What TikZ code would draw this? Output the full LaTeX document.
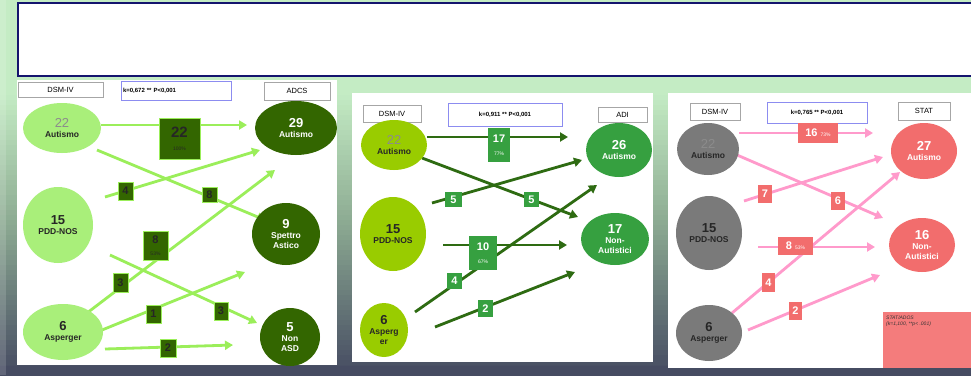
\documentclass[tikz,border=0pt]{standalone}
\usepackage{fontspec}
\setmainfont{Liberation Sans}
\usepackage{tikz}
\usetikzlibrary{arrows.meta, positioning, shapes.geometric}
\usepackage{xcolor}
\definecolor{bgtop}{HTML}{C4ECC4}
\definecolor{bgmid}{HTML}{8CAA92}
\definecolor{bgbot}{HTML}{464C62}
\definecolor{navy}{HTML}{14146E}
\definecolor{kblue}{HTML}{8C8CF0}
\definecolor{lime}{HTML}{A9EF7A}
\definecolor{limearrow}{HTML}{9BEE5A}
\definecolor{forest}{HTML}{336600}
\definecolor{olive}{HTML}{99CC00}
\definecolor{leaf}{HTML}{36A040}
\definecolor{pine}{HTML}{2E6B12}
\definecolor{slate}{HTML}{7A7A7A}
\definecolor{salmon}{HTML}{F26D6D}
\definecolor{salmonbox}{HTML}{F47C7C}
\definecolor{pinkarrow}{HTML}{FF9ACB}

\newcommand{\cnt}[1]{{\fontsize{13}{13}\selectfont #1}}
\newcommand{\faint}[1]{{\fontsize{13}{13}\selectfont\mdseries\color{black!45}#1}}
\newcommand{\pct}[1]{{\fontsize{5}{5}\selectfont\mdseries #1}}

\tikzset{
  blob/.style={ellipse, inner sep=0pt, align=center, font=\bfseries\fontsize{8.5}{10}\selectfont},
  hdr/.style={draw=gray!70, fill=white, line width=0.8pt, inner sep=0pt, font=\fontsize{7.5}{8}\selectfont},
  kbox/.style={draw=kblue, fill=white, line width=0.8pt, inner sep=2pt, font=\bfseries\fontsize{6}{6}\selectfont},
  flow/.style={line width=2.8pt, -{Triangle[length=8pt, width=9pt]}},
  tag/.style={inner sep=0pt, align=center, font=\bfseries\fontsize{11}{11}\selectfont},
  tagA/.style={tag, fill=forest, draw=limearrow, line width=0.6pt, text=black!85},
  tagB/.style={tag, fill=leaf, text=white},
  tagC/.style={tag, fill=salmon, text=white}
}

\begin{document}
\begin{tikzpicture}[x=1pt, y=-1pt]
  \useasboundingbox (0,0) rectangle (971,375);

  % Background
  \fill[bgtop] (0,0) rectangle (971,90);
  \foreach \i in {0,...,26} {
    \pgfmathtruncatemacro\p{100*\i/26}
    \fill[bgmid!\p!bgtop] (0,90+5*\i) rectangle (971,96+5*\i);
  }
  \foreach \i in {0,...,30} {
    \pgfmathtruncatemacro\p{100*\i/30}
    \fill[bgbot!\p!bgmid] (0,220+5*\i) rectangle (971,226+5*\i);
  }
  \fill[bgbot] (0,366) rectangle (971,375);
  \fill[white, opacity=0.15] (0,0) rectangle (6,375);

  % Title box
  \draw[navy, line width=1.2pt, fill=white] (18,3) rectangle (980,76);

  % Panels
  \fill[white] (17,80) rectangle (337,365);
  \fill[white] (352,93) rectangle (653,362);
  \fill[white] (668,93) rectangle (971,368);

  % ---------- ADCS ----------
  \node[hdr, minimum width=85pt, minimum height=15pt] (dsm1) at (60.5,89.5) {DSM-IV};
  \node[kbox, minimum height=19pt, text width=106pt, align=left] (k1) at (176,90.5) {k=0,672 ** P<0,001};
  \node[hdr, minimum width=66pt, minimum height=18pt] (adcs1) at (297,91) {ADCS};

  \coordinate (s11) at (101,125); \coordinate (e11) at (247,125);
  \coordinate (s12) at (97,150);  \coordinate (e12) at (265,220);
  \coordinate (s13) at (105,197); \coordinate (e13) at (260,150);
  \coordinate (s14) at (110,255); \coordinate (e14) at (257,323);
  \coordinate (s15) at (87,313);  \coordinate (e15) at (275,170);
  \coordinate (s16) at (102,330); \coordinate (e16) at (245,272);
  \coordinate (s17) at (105,349); \coordinate (e17) at (233,345);
  \draw[flow, limearrow] (s11) -- (e11);
  \draw[flow, limearrow] (s12) -- (e12);
  \draw[flow, limearrow] (s13) -- (e13);
  \draw[flow, limearrow] (s14) -- (e14);
  \draw[flow, limearrow] (s15) -- (e15);
  \draw[flow, limearrow] (s16) -- (e16);
  \draw[flow, limearrow] (s17) -- (e17);

  \node[tagA, minimum width=41pt, minimum height=41pt] (n11) at (179.5,138.5) {{\fontsize{15}{15}\selectfont 22}\\[2pt]\pct{100\%}};
  \node[tagA, minimum width=15pt, minimum height=15pt] (n12) at (209.5,194.5) {8};
  \node[tagA, minimum width=15pt, minimum height=18pt] (n13) at (125.5,191) {4};
  \node[tagA, minimum width=14pt, minimum height=18pt] (n14) at (221,311) {3};
  \node[tagA, minimum width=25pt, minimum height=29pt] (n18) at (155.5,245.5) {8\\[1pt]\pct{53\%}};
  \node[tagA, minimum width=15pt, minimum height=19pt] (n15) at (120.5,282.5) {3};
  \node[tagA, minimum width=15pt, minimum height=18pt] (n16) at (153.5,314) {1};
  \node[tagA, minimum width=16pt, minimum height=18pt] (n17) at (168,348) {2};

  \node[blob, fill=lime, text=black!85, minimum width=78pt, minimum height=50pt] (aut1) at (62,128) {\faint{22}\\Autismo};
  \node[blob, fill=lime, text=black!85, minimum width=70pt, minimum height=76pt] (pdd1) at (58,225) {\cnt{15}\\PDD-NOS};
  \node[blob, fill=lime, text=black!85, minimum width=80pt, minimum height=56pt] (asp1) at (63,332) {\cnt{6}\\Asperger};
  \node[blob, fill=forest, text=white, minimum width=82pt, minimum height=54pt] (adA1) at (296,128) {\cnt{29}\\Autismo};
  \node[blob, fill=forest, text=white, minimum width=68pt, minimum height=62pt] (adS1) at (286,234) {\cnt{9}\\Spettro\\Astico};
  \node[blob, fill=forest, text=white, minimum width=60pt, minimum height=58pt] (adN1) at (290,337) {\cnt{5}\\Non\\ASD};

  % ---------- ADI ----------
  \node[hdr, minimum width=58pt, minimum height=17pt] (dsm2) at (392,113.5) {DSM-IV};
  \node[kbox, minimum width=114pt, minimum height=23pt] (k2) at (505,114.5) {k=0,911 ** P<0,001};
  \node[hdr, minimum width=49pt, minimum height=15pt] (adi2) at (622.5,114.5) {ADI};

  \coordinate (s21) at (427,137); \coordinate (e21) at (568,137);
  \coordinate (s22) at (422,158); \coordinate (e22) at (578,217);
  \coordinate (s23) at (432,203); \coordinate (e23) at (582,160);
  \coordinate (s24) at (443,245); \coordinate (e24) at (567,245);
  \coordinate (s25) at (415,312); \coordinate (e25) at (597,185);
  \coordinate (s26) at (435,327); \coordinate (e26) at (575,272);
  \draw[flow, pine] (s21) -- (e21);
  \draw[flow, pine] (s22) -- (e22);
  \draw[flow, pine] (s23) -- (e23);
  \draw[flow, pine] (s24) -- (e24);
  \draw[flow, pine] (s25) -- (e25);
  \draw[flow, pine] (s26) -- (e26);

  \node[tagB, minimum width=22pt, minimum height=34pt] (n21) at (499,145) {17\\[2pt]\pct{77\%}};
  \node[tagB, minimum width=15pt, minimum height=15pt] (n22) at (531.5,199.5) {5};
  \node[tagB, minimum width=17pt, minimum height=15pt] (n23) at (453.5,199.5) {5};
  \node[tagB, minimum width=28pt, minimum height=34pt] (n24) at (483,253) {10\\[2pt]\pct{67\%}};
  \node[tagB, minimum width=15pt, minimum height=16pt] (n25) at (454.5,281) {4};
  \node[tagB, minimum width=15pt, minimum height=17pt] (n26) at (485.5,308.5) {2};

  \node[blob, fill=olive, text=black!85, minimum width=66pt, minimum height=50pt] (aut2) at (394,145) {\faint{22}\\Autismo};
  \node[blob, fill=olive, text=black!85, minimum width=66pt, minimum height=74pt] (pdd2) at (393,234) {\cnt{15}\\PDD-NOS};
  \node[blob, fill=olive, text=black!85, minimum width=48pt, minimum height=54pt] (asp2) at (384,330) {\cnt{6}\\Asperg\\er};
  \node[blob, fill=leaf, text=white, minimum width=66pt, minimum height=54pt] (adiA2) at (619,150) {\cnt{26}\\Autismo};
  \node[blob, fill=leaf, text=white, minimum width=68pt, minimum height=52pt] (adiN2) at (615,239) {\cnt{17}\\Non-\\Autistici};

  % ---------- STAT ----------
  \node[hdr, minimum width=50pt, minimum height=17pt] (dsm3) at (715,111.5) {DSM-IV};
  \node[kbox, minimum width=100pt, minimum height=21pt] (k3) at (817,112.5) {k=0,765 ** P<0,001};
  \node[hdr, minimum width=52pt, minimum height=18pt] (stat3) at (924,111) {STAT};

  \coordinate (s31) at (739,133); \coordinate (e31) at (873,133);
  \coordinate (s32) at (737,155); \coordinate (e32) at (883,218);
  \coordinate (s33) at (744,201); \coordinate (e33) at (883,157);
  \coordinate (s34) at (758,247); \coordinate (e34) at (875,247);
  \coordinate (s35) at (732,313); \coordinate (e35) at (900,172);
  \coordinate (s36) at (748,330); \coordinate (e36) at (880,275);
  \draw[flow, pinkarrow] (s31) -- (e31);
  \draw[flow, pinkarrow] (s32) -- (e32);
  \draw[flow, pinkarrow] (s33) -- (e33);
  \draw[flow, pinkarrow] (s34) -- (e34);
  \draw[flow, pinkarrow] (s35) -- (e35);
  \draw[flow, pinkarrow] (s36) -- (e36);

  \node[tagC, minimum width=40pt, minimum height=20pt] (n31) at (818,133) {16 \pct{73\%}};
  \node[tagC, minimum width=14pt, minimum height=18pt] (n32) at (838,201) {6};
  \node[tagC, minimum width=14pt, minimum height=18pt] (n33) at (765,194) {7};
  \node[tagC, minimum width=35pt, minimum height=18pt] (n34) at (795.5,246) {8 \pct{53\%}};
  \node[tagC, minimum width=13pt, minimum height=19pt] (n35) at (768.5,282.5) {4};
  \node[tagC, minimum width=13pt, minimum height=18pt] (n36) at (795.5,311) {2};

  \node[blob, fill=slate, text=black!85, minimum width=62pt, minimum height=52pt] (aut3) at (708,149) {\faint{22}\\Autismo};
  \node[blob, fill=slate, text=black!85, minimum width=66pt, minimum height=74pt] (pdd3) at (709,233) {\cnt{15}\\PDD-NOS};
  \node[blob, fill=slate, text=black!85, minimum width=66pt, minimum height=56pt] (asp3) at (709,333) {\cnt{6}\\Asperger};
  \node[blob, fill=salmon, text=white, minimum width=66pt, minimum height=56pt] (stA3) at (924,151) {\cnt{27}\\Autismo};
  \node[blob, fill=salmon, text=white, minimum width=66pt, minimum height=54pt] (stN3) at (922,245) {\cnt{16}\\Non-\\Autistici};

  % Note
  \node[fill=salmonbox, minimum width=90pt, minimum height=56pt, inner sep=0pt, anchor=north west] (note) at (883,312) {};
  \node[anchor=north west, align=left, inner sep=0pt, font=\itshape\fontsize{5}{6}\selectfont, text=black!80] (notetxt) at ([xshift=3pt, yshift=-4pt]note.north west) {STAT/ADOS\\(k=1,100, **p< .001)};
\end{tikzpicture}
\end{document}
